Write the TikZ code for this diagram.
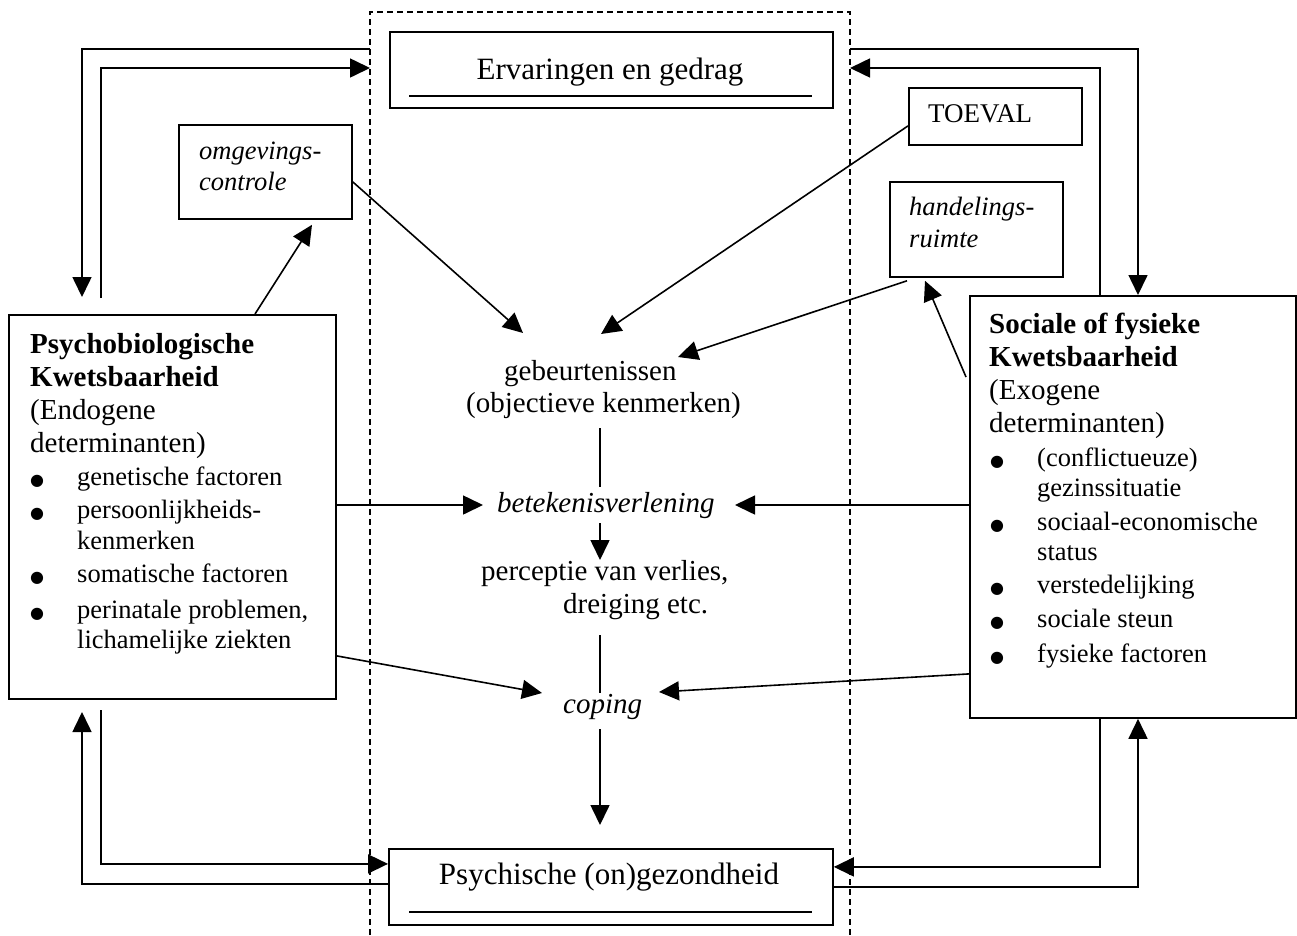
\documentclass[tikz,border=0pt]{standalone}
\usepackage{fontspec}
\setmainfont{Liberation Serif}
\newfontfamily\dejavu{DejaVu Sans}
\usetikzlibrary{arrows.meta}
\newcommand\fsA{\fontsize{26.5}{30}\selectfont}
\newcommand\fsB{\fontsize{29}{33}\selectfont}
\newcommand\fsC{\fontsize{31}{35}\selectfont}
\newcommand\bigbul{{\dejavu\fontsize{16}{16}\selectfont ●}}
\begin{document}
\begin{tikzpicture}[x=1pt,y=-1pt,
  box/.style={draw, line width=1.8pt, inner sep=0pt, anchor=north west},
  ln/.style={line width=1.6pt},
  arr/.style={ln, -{Triangle[length=20pt,width=19pt]}},
  tA/.style={anchor=base west, inner sep=0pt, font=\fsA},
  tAi/.style={tA, font=\fsA\itshape},
  tH/.style={anchor=base west, inner sep=0pt, font=\fsB},
  tHb/.style={tH, font=\fsB\bfseries},
  tB/.style={anchor=base west, inner sep=0pt, font=\fsB},
  tBi/.style={tB, font=\fsB\itshape},
  tC/.style={anchor=base, inner sep=0pt, font=\fsC},
  bul/.style={anchor=base west, inner sep=0pt},
  frame/.style={line width=1.4pt, dash pattern=on 6pt off 4pt},
  uline/.style={line width=2pt}]
\useasboundingbox (0,0) rectangle (1297,935);

% dashed frame
\draw[frame] (370,935) -- (370,12) -- (850,12) -- (850,935);

% boxes
\node[box, minimum width=443pt, minimum height=76pt] (Top) at (389,31) {};
\node[box, minimum width=444pt, minimum height=76pt] (Bot) at (388,848) {};
\node[box, minimum width=173pt, minimum height=57pt] (toe) at (908,87) {};
\node[box, minimum width=173pt, minimum height=95pt] (hand) at (889,181) {};
\node[box, minimum width=173pt, minimum height=94pt] (omg) at (178,124) {};
\node[box, minimum width=327pt, minimum height=384pt] (L) at (8,314) {};
\node[box, minimum width=326pt, minimum height=422pt] (R) at (969,295) {};

% underlines in top and bottom boxes
\draw[uline] (409,96) -- (812,96);
\draw[uline] (409,912) -- (812,912);

% box texts
\node[tC] (topT) at (610,79) {Ervaringen en gedrag};
\node[tC] (botT) at (609,884) {Psychische (on)gezondheid};
\node[tA, font=\fontsize{27}{30}\selectfont] (toeT) at (928,122) {TOEVAL};
\node[tAi] (handT1) at (909,215) {handelings-};
\node[tAi] (handT2) at (909,247) {ruimte};
\node[tAi] (omgT1) at (199,159) {omgevings-};
\node[tAi] (omgT2) at (199,190) {controle};

% left box text
\node[tHb] (L1) at (30,353) {Psychobiologische};
\node[tHb] (L2) at (30,386) {Kwetsbaarheid};
\node[tH] (L3) at (30,419) {(Endogene};
\node[tH] (L4) at (30,452) {determinanten)};
\node[bul] (Lb1) at (30,485) {\bigbul};
\node[tA] (L5) at (77,485) {genetische factoren};
\node[bul] (Lb2) at (30,518) {\bigbul};
\node[tA] (L6) at (77,518) {persoonlijkheids-};
\node[tA] (L7) at (77,549) {kenmerken};
\node[bul] (Lb3) at (30,582) {\bigbul};
\node[tA] (L8) at (77,582) {somatische factoren};
\node[bul] (Lb4) at (30,618) {\bigbul};
\node[tA] (L9) at (77,618) {perinatale problemen,};
\node[tA] (L10) at (77,648) {lichamelijke ziekten};

% right box text
\node[tHb] (R1) at (989,333) {Sociale of fysieke};
\node[tHb] (R2) at (989,366) {Kwetsbaarheid};
\node[tH] (R3) at (989,399) {(Exogene};
\node[tH] (R4) at (989,432) {determinanten)};
\node[bul] (Rb1) at (990,466) {\bigbul};
\node[tA] (R5) at (1037,466) {(conflictueuze)};
\node[tA] (R6) at (1037,496) {gezinssituatie};
\node[bul] (Rb2) at (990,530) {\bigbul};
\node[tA] (R7) at (1037,530) {sociaal-economische};
\node[tA] (R8) at (1037,560) {status};
\node[bul] (Rb3) at (990,593) {\bigbul};
\node[tA] (R9) at (1037,593) {verstedelijking};
\node[bul] (Rb4) at (990,627) {\bigbul};
\node[tA] (R10) at (1037,627) {sociale steun};
\node[bul] (Rb5) at (990,662) {\bigbul};
\node[tA] (R11) at (1037,662) {fysieke factoren};

% centre texts
\node[tB] (geb1) at (504,380) {gebeurtenissen};
\node[tB] (geb2) at (466,412) {(objectieve kenmerken)};
\node[tBi] (bet) at (497,512) {betekenisverlening};
\node[tB] (perc1) at (481,580) {perceptie van verlies,};
\node[tB] (perc2) at (563,613) {dreiging etc.};
\node[tBi] (cop) at (563,713) {coping};

% connector end points
\coordinate (gebA) at (523,333);
\coordinate (gebB) at (601,334);
\coordinate (gebC) at (678,357);
\coordinate (gebS) at (600,428);
\coordinate (betN) at (600,487);
\coordinate (betW) at (483,505);
\coordinate (betE) at (735,505);
\coordinate (betS) at (600,523);
\coordinate (percN) at (600,560);
\coordinate (percS) at (600,635);
\coordinate (copN) at (600,693);
\coordinate (copW) at (542,693);
\coordinate (copE) at (659,692);
\coordinate (copS) at (600,729);
\coordinate (botN) at (600,825);
\coordinate (TLa) at (370,49);
\coordinate (TLb) at (82,297);
\coordinate (TLc) at (101,298);
\coordinate (TLd) at (370,68);
\coordinate (TRa) at (850,49);
\coordinate (TRd) at (850,68);
\coordinate (BLb) at (82,712);
\coordinate (BLc) at (101,710);

% feedback loops
\draw[arr] (TLa) -| (TLb);
\draw[arr] (TLc) |- (TLd);
\draw[arr] (TRa) -| ([xshift=169pt]R.north west);
\draw[arr] ([xshift=131pt]R.north west) |- (TRd);
\draw[arr] ([yshift=3pt]Bot.west) -| (BLb);
\draw[arr] (BLc) |- ([yshift=23pt]Bot.west);
\draw[arr] ([xshift=131pt]R.south west) |- ([yshift=20pt]Bot.east);
\draw[arr] (Bot.east) -| ([xshift=169pt]R.south west);

% diagonal influences
\draw[arr] ([xshift=247pt]L.north west) -- ([xshift=134pt,yshift=-5pt]omg.south west);
\draw[arr] ([yshift=-10pt]omg.east) -- (gebA);
\draw[arr] ([yshift=-9.5pt]toe.west) -- (gebB);
\draw[arr] ([xshift=18pt,yshift=-3pt]hand.south west) -- (gebC);
\draw[arr] ([xshift=-3pt,yshift=-82pt]R.north west) -- ([xshift=36pt,yshift=-3pt]hand.south west);

% central chain
\draw[ln] (gebS) -- (betN);
\draw[arr] (L.east |- betW) -- (betW);
\draw[arr] (R.west |- betE) -- (betE);
\draw[arr] (betS) -- (percN);
\draw[ln] (percS) -- (copN);
\draw[arr] ([yshift=-149pt]L.east) -- (copW);
\draw[arr] ([yshift=-167pt]R.west) -- (copE);
\draw[arr] (copS) -- (botN);
\end{tikzpicture}
\end{document}
